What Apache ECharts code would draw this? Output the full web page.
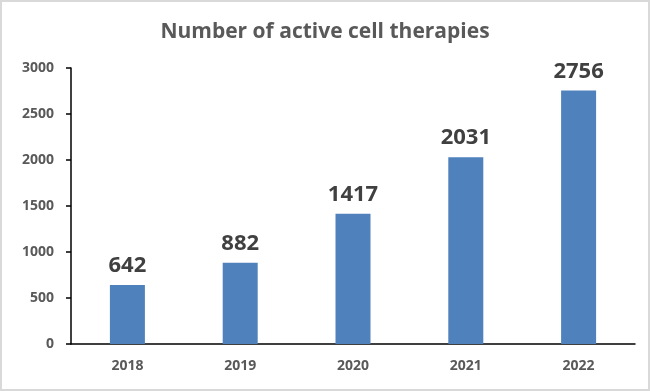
<!DOCTYPE html>
<html>
<head>
<meta charset="utf-8">
<script src="https://cdn.jsdelivr.net/npm/echarts@6/dist/echarts.min.js"></script>
<style>
html,body{margin:0;padding:0;background:#fff;}
#wrap{position:relative;width:650px;height:391px;box-sizing:border-box;border:2px solid #d9d9d9;}
#chart{position:absolute;left:-2px;top:-2px;width:650px;height:391px;}
</style>
</head>
<body>
<div id="wrap"><div id="chart"></div></div>
<script>
const categories = ['2018', '2019', '2020', '2021', '2022'];
const values = [642, 882, 1417, 2031, 2756];
const yTicks = [0, 500, 1000, 1500, 2000, 2500, 3000];
const titleText = 'Number of active cell therapies';

const chart = echarts.init(document.getElementById('chart'), null, {renderer: 'canvas'});
const font = '"Open Sans", "Noto Sans", sans-serif';
chart.setOption({
  animation: false,
  title: {
    text: titleText,
    left: 'center',
    top: 17,
    textStyle: {fontFamily: font, fontSize: 21, fontWeight: 'bold', color: '#595959'}
  },
  grid: {left: 71, right: 15, top: 68, bottom: 47},
  xAxis: {
    type: 'category',
    data: categories,
    axisLine: {lineStyle: {color: '#000', width: 1.5}},
    axisTick: {inside: true, length: 5, lineStyle: {color: '#000', width: 1.5}},
    axisLabel: {margin: 15, fontFamily: font, fontSize: 14, fontWeight: 'bold', color: '#595959'}
  },
  yAxis: {
    type: 'value',
    min: yTicks[0],
    max: yTicks[yTicks.length - 1],
    interval: 500,
    splitLine: {show: false},
    axisLine: {show: true, lineStyle: {color: '#000', width: 1.5}},
    axisTick: {show: true, length: 5, lineStyle: {color: '#000', width: 1.5}},
    axisLabel: {margin: 17, fontFamily: font, fontSize: 14, fontWeight: 'bold', color: '#595959',
      formatter: function (v) { return String(v); }}
  },
  series: [{
    type: 'bar',
    data: values,
    barWidth: 35,
    itemStyle: {color: '#4f81bd'},
    label: {
      show: true,
      position: 'top',
      distance: 8,
      fontFamily: font,
      fontSize: 22,
      fontWeight: 'bold',
      color: '#404040'
    }
  }]
});
</script>
</body>
</html>
